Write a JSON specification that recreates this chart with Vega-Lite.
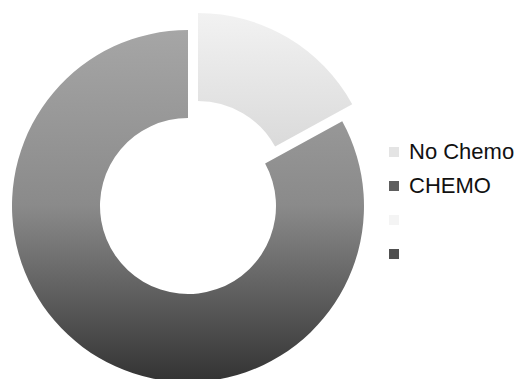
{
  "$schema": "https://vega.github.io/schema/vega-lite/v6.json",
  "width": 376,
  "height": 379,
  "autosize": "none",
  "padding": {"left": 0, "top": 0, "right": 149, "bottom": 0},
  "background": "white",
  "data": {"values": [
    {"cat": "No Chemo", "value": 17, "rank": 1},
    {"cat": "CHEMO", "value": 83, "rank": 2},
    {"cat": "b3", "value": 0, "rank": 3},
    {"cat": "b4", "value": 0, "rank": 4}
  ]},
  "encoding": {
    "theta": {"field": "value", "type": "quantitative", "stack": true},
    "order": {"field": "rank", "type": "quantitative"}
  },
  "layer": [
    {
      "mark": {"type": "arc", "innerRadius": 88, "outerRadius": 176, "yOffset": 16.5, "opacity": 0},
      "encoding": {
        "color": {
          "field": "cat",
          "type": "nominal",
          "scale": {
            "domain": ["No Chemo", "CHEMO", "b3", "b4"],
            "range": ["#e4e4e4", "#5e5e5e", "#f4f4f4", "#505050"]
          },
          "legend": {
            "orient": "none",
            "legendX": 383,
            "legendY": 141,
            "title": null,
            "symbolType": "square",
            "symbolSize": 100,
            "symbolOpacity": 1,
            "symbolStrokeWidth": 0,
            "labelFont": "Liberation Sans",
            "labelFontSize": 22,
            "labelColor": "#111111",
            "labelOffset": 4,
            "labelLimit": 300,
            "rowPadding": 12,
            "labelExpr": "datum.value === 'No Chemo' || datum.value === 'CHEMO' ? datum.label : ''"
          }
        }
      }
    },
    {
      "mark": {
        "type": "arc", "innerRadius": 88, "outerRadius": 176, "yOffset": 16.5,
        "fill": {"gradient": "linear", "x1": 0, "y1": 0, "x2": 0, "y2": 1, "stops": [{"offset": 0, "color": "#a6a6a6"}, {"offset": 0.5, "color": "#8a8a8a"}, {"offset": 1, "color": "#333333"}]}
      },
      "encoding": {
        "opacity": {"condition": {"test": "datum.cat === 'No Chemo'", "value": 0}, "value": 1}
      }
    },
    {
      "mark": {
        "type": "arc", "innerRadius": 88, "outerRadius": 176, "xOffset": 10, "yOffset": -0.5,
        "fill": {"gradient": "linear", "x1": 0, "y1": 0, "x2": 0, "y2": 1, "stops": [{"offset": 0, "color": "#f2f2f2"}, {"offset": 1, "color": "#dadada"}]}
      },
      "encoding": {
        "opacity": {"condition": {"test": "datum.cat === 'No Chemo'", "value": 1}, "value": 0}
      }
    }
  ]
}
